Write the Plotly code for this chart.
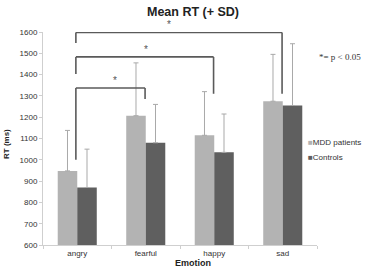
import plotly.graph_objects as go

emotions = ["angry", "fearful", "happy", "sad"]
mdd_mean = [948, 1207, 1115, 1275]
mdd_sd = [190, 248, 205, 220]
ctrl_mean = [870, 1080, 1035, 1255]
ctrl_sd = [180, 180, 180, 290]

# significance brackets: (left cat, right cat, top y, left end y, right end y, star x, star y)
brackets = [
    (0, 3, 1598, 1548, 1310, 1.34, 1634),
    (0, 2, 1483, 1403, 1310, 1.0, 1520),
    (0, 1, 1337, 1000, 1285, 0.55, 1372),
]

MDD_COLOR = "#b3b3b3"
CTRL_COLOR = "#5f5f5f"
FONT = "Liberation Sans, Arial, sans-serif"

L, R, T, B, W, H = 43, 50, 32, 24, 367, 269
PW, PH = W - L - R, H - T - B
YMIN, YMAX = 600, 1600


def px(x):
    return (x - L) / PW


def py(y):
    return (H - B - y) / PH


fig = go.Figure()
fig.add_trace(go.Bar(
    x=emotions, y=mdd_mean, name="MDD patients", marker_color=MDD_COLOR,
    marker_line_width=0,
    error_y=dict(type="data", array=mdd_sd, arrayminus=[0]*4, symmetric=False,
                 color="#a9a9a9", thickness=1, width=2.5),
))
fig.add_trace(go.Bar(
    x=emotions, y=ctrl_mean, name="Controls", marker_color=CTRL_COLOR,
    marker_line_width=0,
    error_y=dict(type="data", array=ctrl_sd, arrayminus=[0]*4, symmetric=False,
                 color="#a9a9a9", thickness=1, width=2.5),
))

lc = "#5a5a5a"
for (a, b, top, ly, ry, sx, sy) in brackets:
    xa, xb = a - 0.02, b - 0.01
    fig.add_shape(type="line", xref="x", yref="y", x0=xa, x1=xb, y0=top, y1=top,
                  line=dict(color=lc, width=1.6))
    fig.add_shape(type="line", xref="x", yref="y", x0=xa, x1=xa, y0=top, y1=ly,
                  line=dict(color=lc, width=1.6))
    fig.add_shape(type="line", xref="x", yref="y", x0=xb, x1=xb, y0=top, y1=ry,
                  line=dict(color=lc, width=1.6))
    # star placed with paper y so it is shown even above the axis range
    fig.add_annotation(x=sx, y=(sy - YMIN) / (YMAX - YMIN), xref="x", yref="paper",
                       text="*", showarrow=False, xanchor="center", yanchor="middle",
                       font=dict(family=FONT, size=10, color="#555555"))

fig.update_layout(
    width=W, height=H,
    margin=dict(l=L, r=R, t=T, b=B),
    paper_bgcolor="white", plot_bgcolor="white",
    barmode="group", bargap=0.43, bargroupgap=0,
    showlegend=False,
    font=dict(family=FONT, size=8, color="#333333"),
)
fig.update_xaxes(
    showline=True, linecolor="#cfcfcf", linewidth=1,
    ticks="outside", ticklen=3, tickcolor="#cfcfcf", tickson="boundaries",
    tickfont=dict(size=8, color="#333333"), showgrid=False,
)
fig.update_yaxes(
    range=[YMIN, YMAX], dtick=100, showline=True, linecolor="#cfcfcf", linewidth=1,
    ticks="outside", ticklen=3, tickcolor="#cfcfcf", showgrid=False, zeroline=False,
    tickfont=dict(size=8, color="#333333"),
)


def note(x, y, text, size=8, color="#333333", family=FONT, xanchor="center", **kw):
    fig.add_annotation(xref="paper", yref="paper", x=px(x), y=py(y), text=text,
                       showarrow=False, xanchor=xanchor, yanchor="middle",
                       font=dict(family=family, size=size, color=color), **kw)


note(193, 12, "<b>Mean RT (+ SD)</b>", size=12.5, color="#222222")
note(193, 263, "<b>Emotion</b>", size=9, color="#222222")
note(6, 144, "<b>RT (ms)</b>", size=8, color="#222222", textangle=-90)
note(306, 142, "<span style='color:%s'>■</span>MDD patients" % MDD_COLOR, xanchor="left")
note(306, 157, "<span style='color:%s'>■</span>Controls" % CTRL_COLOR, xanchor="left")
note(340, 57, "*= p < 0.05", size=9, family="Liberation Serif, Times New Roman, serif")

fig.write_html("out.html")
